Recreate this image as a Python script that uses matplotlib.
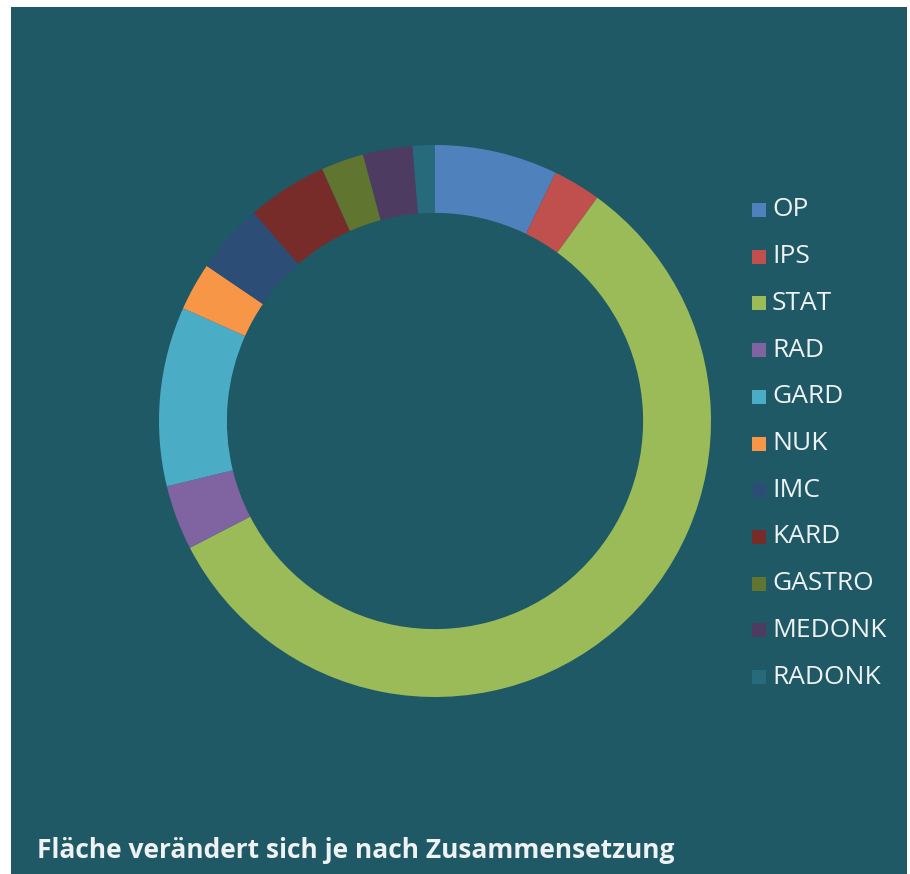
import matplotlib.pyplot as plt
from matplotlib.patches import Rectangle

labels = ["OP", "IPS", "STAT", "RAD", "GARD", "NUK", "IMC", "KARD", "GASTRO", "MEDONK", "RADONK"]
shares = [7.2, 2.8, 57.4, 3.8, 10.5, 2.8, 4.1, 4.7, 2.5, 2.9, 1.3]
colors = ["#4F81BD", "#C0504D", "#9BBB59", "#8064A2", "#4BACC6", "#F79646",
          "#2C4D75", "#772C2A", "#5F7530", "#4D3B62", "#276A7C"]
title = "Fläche verändert sich je nach Zusammensetzung"

W, H = 910, 874
bg = "#1F5965"
txt = "#EEF2F3"

fig = plt.figure(figsize=(W / 100, H / 100), dpi=100, facecolor="white")

# teal panel (white margin at top and left), kept behind the donut
fig.patches.append(Rectangle((11 / W, 0), (907 - 11) / W, (H - 7) / H,
                             transform=fig.transFigure, facecolor=bg, edgecolor="none", zorder=-5))

# donut: centre (435, 421) px from top-left, outer radius 276 px
cx, cy, r = 435, 421, 276
ax = fig.add_axes([(cx - r) / W, (H - cy - r) / H, 2 * r / W, 2 * r / H])
ax.set_zorder(1)
ax.pie(shares, colors=colors, startangle=90, counterclock=False, radius=1,
       wedgeprops=dict(width=0.246, edgecolor="none"))
ax.set_xlim(-1, 1)
ax.set_ylim(-1, 1)
ax.set_aspect("auto")
ax.axis("off")

# legend
y0, step = 210, 46.7
for i, (lab, col) in enumerate(zip(labels, colors)):
    y = y0 + i * step
    fig.patches.append(Rectangle((752 / W, (H - y - 7) / H), 14 / W, 14 / H,
                                 transform=fig.transFigure, facecolor=col, edgecolor="none"))
    fig.text(772 / W, (H - y) / H, lab, color=txt, fontsize=19, family="Open Sans",
             va="center", ha="left")

fig.text(37 / W, (H - 851) / H, title, color=txt, fontsize=19, family="Open Sans",
         fontweight="bold", va="center", ha="left")

fig.savefig("out.png", dpi=100, facecolor=fig.get_facecolor())
